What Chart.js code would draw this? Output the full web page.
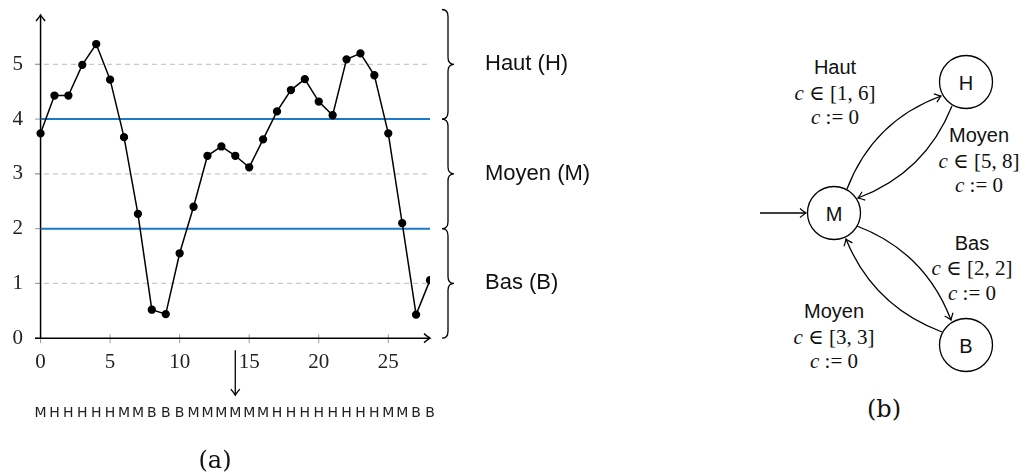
<!DOCTYPE html>
<html lang="fr">
<head>
<meta charset="UTF-8">
<title>Discrétisation du signal et automate</title>
<script src="https://cdn.jsdelivr.net/npm/chart.js"></script>
<style>
  body { margin: 0; background: #fff; }
  #wrap { position: relative; width: 1026px; height: 476px; overflow: hidden; }
  #chart-container { position: absolute; left: 0; top: 0; width: 600px; height: 476px; }
  #automate { position: absolute; left: 600px; top: 0; }
  #automate text { font-family: "Liberation Sans", Arial, sans-serif; fill: #111; }
  #automate .math { font-family: "Liberation Serif", "DejaVu Serif", serif; }
</style>
</head>
<body>
<div id="wrap">
  <div id="chart-container"><canvas id="signal"></canvas></div>

  <!-- (b) automate -->
  <svg id="automate" width="426" height="476" viewBox="600 0 426 476">
    <defs>
      <marker id="tip" viewBox="-8 -6 10 12" markerWidth="10" markerHeight="12" refX="0" refY="0"
              orient="auto" markerUnits="userSpaceOnUse">
        <path d="M-6,-4.5 Q-1.5,-0.8 0,0 Q-1.5,0.8 -6,4.5" fill="none" stroke="#000" stroke-width="1.2"/>
      </marker>
    </defs>
    <g fill="none" stroke="#000" stroke-width="1.3">
      <line x1="760" y1="213" x2="806" y2="213" marker-end="url(#tip)"/>
      <path d="M847,189 Q873,121 941,96" marker-end="url(#tip)"/>
      <path d="M952,106 Q925,173 858,198" marker-end="url(#tip)"/>
      <path d="M857,226 Q925,252 951,320" marker-end="url(#tip)"/>
      <path d="M942,332 Q873,306 846,239" marker-end="url(#tip)"/>
      <circle cx="966" cy="82" r="26.5" fill="#fff"/>
      <circle cx="834" cy="213" r="26.5" fill="#fff"/>
      <circle cx="966" cy="345" r="26.5" fill="#fff"/>
    </g>
    <g text-anchor="middle" dominant-baseline="central" font-size="20">
      <text x="966" y="83">H</text>
      <text x="834" y="214">M</text>
      <text x="966" y="346">B</text>
    </g>
    <g text-anchor="middle" dominant-baseline="central" font-size="20">
      <text x="835" y="67">Haut</text>
      <text x="835" y="93" class="math" font-size="21"><tspan font-style="italic">c</tspan> ∈ [1, 6]</text>
      <text x="835" y="117" class="math" font-size="21"><tspan font-style="italic">c</tspan> := 0</text>

      <text x="979" y="135">Moyen</text>
      <text x="979" y="161" class="math" font-size="21"><tspan font-style="italic">c</tspan> ∈ [5, 8]</text>
      <text x="979" y="185" class="math" font-size="21"><tspan font-style="italic">c</tspan> := 0</text>

      <text x="972" y="243">Bas</text>
      <text x="972" y="268" class="math" font-size="21"><tspan font-style="italic">c</tspan> ∈ [2, 2]</text>
      <text x="972" y="293" class="math" font-size="21"><tspan font-style="italic">c</tspan> := 0</text>

      <text x="834" y="311">Moyen</text>
      <text x="834" y="337" class="math" font-size="21"><tspan font-style="italic">c</tspan> ∈ [3, 3]</text>
      <text x="834" y="361" class="math" font-size="21"><tspan font-style="italic">c</tspan> := 0</text>
    </g>
    <text x="884" y="409" text-anchor="middle" dominant-baseline="central"
          style="font-family:'DejaVu Serif',serif;font-size:24px">(b)</text>
  </svg>
</div>

<script>
    // signal échantillonné (t = 0..28)
    const values = [3.74, 4.43, 4.43, 4.99, 5.37, 4.72, 3.67, 2.27, 0.52, 0.44,
                    1.55, 2.40, 3.33, 3.50, 3.33, 3.12, 3.63, 4.14, 4.53, 4.73,
                    4.32, 4.07, 5.09, 5.20, 4.80, 3.74, 2.10, 0.43, 1.06];
    // symbole associé à chaque échantillon
    const states = ['M','H','H','H','H','H','M','M','B','B','B','M','M','M','M',
                    'M','M','H','H','H','H','H','H','H','H','M','M','B','B'];
    const thresholds = [2, 4];
    const dashedLevels = [1, 3, 5];
    const xTicks = [0, 5, 10, 15, 20, 25];
    const yTicks = [0, 1, 2, 3, 4, 5];
    const bandLabels = ['Haut (H)', 'Moyen (M)', 'Bas (B)'];
    const bandEdges = [6, 4, 2, 0];
    const arrowAt = 14;

    const BLUE = '#1a79c8';

    function drawTip(ctx, x, y, ang) {
        ctx.save();
        ctx.translate(x, y);
        ctx.rotate(ang);
        ctx.beginPath();
        ctx.moveTo(-6, -4.5);
        ctx.quadraticCurveTo(-1.5, -0.8, 0, 0);
        ctx.quadraticCurveTo(-1.5, 0.8, -6, 4.5);
        ctx.stroke();
        ctx.restore();
    }

    function drawBrace(ctx, xl, top, bot) {
        const xs = xl + 6, xt = xl + 12, r = 7, m = (top + bot) / 2;
        ctx.beginPath();
        ctx.moveTo(xl, top);
        ctx.quadraticCurveTo(xs, top, xs, top + r);
        ctx.lineTo(xs, m - r);
        ctx.quadraticCurveTo(xs, m, xt, m);
        ctx.quadraticCurveTo(xs, m, xs, m + r);
        ctx.lineTo(xs, bot - r);
        ctx.quadraticCurveTo(xs, bot, xl, bot);
        ctx.stroke();
    }

    const decor = {
        id: 'decor',
        beforeDatasetsDraw(chart) {
            const { ctx, chartArea: a, scales: { x, y } } = chart;
            const x0 = x.getPixelForValue(0), y0 = y.getPixelForValue(0);
            ctx.save();
            // dashed grey levels
            ctx.strokeStyle = '#c9c9c9';
            ctx.lineWidth = 1.2;
            ctx.setLineDash([5, 4]);
            dashedLevels.forEach(v => {
                const py = y.getPixelForValue(v);
                ctx.beginPath(); ctx.moveTo(a.left, py); ctx.lineTo(a.right, py); ctx.stroke();
            });
            ctx.setLineDash([]);
            // small ticks
            ctx.strokeStyle = '#999';
            ctx.lineWidth = 1;
            yTicks.forEach(v => {
                const py = y.getPixelForValue(v);
                ctx.beginPath(); ctx.moveTo(a.left, py); ctx.lineTo(x0, py); ctx.stroke();
            });
            xTicks.forEach(v => {
                const px = x.getPixelForValue(v);
                ctx.beginPath(); ctx.moveTo(px, y0 - 4); ctx.lineTo(px, y0 + 5); ctx.stroke();
            });
            // axes with arrows
            ctx.strokeStyle = '#000';
            ctx.lineWidth = 1.5;
            ctx.beginPath(); ctx.moveTo(a.left, y0); ctx.lineTo(a.right, y0); ctx.stroke();
            drawTip(ctx, a.right, y0, 0);
            ctx.beginPath(); ctx.moveTo(x0, y0); ctx.lineTo(x0, a.top); ctx.stroke();
            drawTip(ctx, x0, a.top, -Math.PI / 2);
            ctx.restore();
        },
        afterDraw(chart) {
            const { ctx, chartArea: a, scales: { x, y } } = chart;
            const y0 = y.getPixelForValue(0);
            ctx.save();
            ctx.strokeStyle = '#000';
            ctx.lineWidth = 1.3;
            // braces + band names
            ctx.font = '22px "Liberation Sans", Arial, sans-serif';
            ctx.fillStyle = '#111';
            ctx.textBaseline = 'middle';
            bandLabels.forEach((lab, i) => {
                const top = y.getPixelForValue(bandEdges[i]);
                const bot = y.getPixelForValue(bandEdges[i + 1]);
                drawBrace(ctx, a.right + 12, top, bot);
                ctx.fillText(lab, a.right + 55, (top + bot) / 2);
            });
            // arrow down to the symbol sequence
            const px = x.getPixelForValue(arrowAt);
            ctx.beginPath(); ctx.moveTo(px, y0 + 12); ctx.lineTo(px, y0 + 57); ctx.stroke();
            drawTip(ctx, px, y0 + 57, Math.PI / 2);
            ctx.restore();
        }
    };

    const serif = { family: '"Liberation Serif", "DejaVu Serif", serif', size: 21 };

    const ctx = document.getElementById('signal').getContext('2d');
    new Chart(ctx, {
        type: 'line',
        data: {
            datasets: [
                {
                    data: values.map((v, i) => ({ x: i, y: v })),
                    borderColor: '#000',
                    backgroundColor: '#000',
                    borderWidth: 1.5,
                    pointRadius: 3.4,
                    pointBackgroundColor: '#000',
                    tension: 0
                },
                ...thresholds.map(t => ({
                    data: [{ x: 0, y: t }, { x: values.length - 1, y: t }],
                    borderColor: BLUE,
                    borderWidth: 2,
                    pointRadius: 0
                }))
            ]
        },
        options: {
            responsive: true,
            maintainAspectRatio: false,
            animation: false,
            events: [],
            layout: { padding: { left: 0, right: 170, top: 15, bottom: 0 } },
            plugins: {
                legend: { display: false },
                tooltip: { enabled: false },
                title: {
                    display: true,
                    text: '(a)',
                    position: 'bottom',
                    color: '#111',
                    font: { family: '"DejaVu Serif", serif', size: 24, weight: 'normal' },
                    padding: { top: 0, bottom: 0 }
                }
            },
            scales: {
                x: {
                    type: 'linear',
                    position: 'bottom',
                    min: -0.4,
                    max: values.length - 1,
                    weight: 0,
                    grid: { display: false, drawTicks: false },
                    border: { display: false },
                    afterBuildTicks: s => { s.ticks = xTicks.map(v => ({ value: v })); },
                    afterFit: s => { s.height = 45; s.paddingLeft = 0; s.paddingRight = 0; },
                    ticks: { font: serif, color: '#222', padding: 12, maxRotation: 0, autoSkip: false }
                },
                seq: {
                    type: 'linear',
                    position: 'bottom',
                    min: -0.4,
                    max: values.length - 1,
                    weight: 1,
                    grid: { display: false, drawTicks: false },
                    border: { display: false },
                    afterBuildTicks: s => { s.ticks = states.map((_, i) => ({ value: i })); },
                    afterFit: s => { s.height = 64; s.paddingLeft = 0; s.paddingRight = 0; },
                    ticks: {
                        callback: v => states[v],
                        font: { family: '"DejaVu Sans", sans-serif', size: 14 },
                        color: '#222', padding: 22, maxRotation: 0, autoSkip: false
                    }
                },
                y: {
                    min: 0,
                    max: 5.9,
                    grid: { display: false, drawTicks: false },
                    border: { display: false },
                    afterBuildTicks: s => { s.ticks = yTicks.map(v => ({ value: v })); },
                    afterFit: s => { s.width = 35; s.paddingTop = 0; s.paddingBottom = 0; },
                    ticks: { font: serif, color: '#222', padding: 12 }
                }
            }
        },
        plugins: [decor]
    });
</script>
</body>
</html>
